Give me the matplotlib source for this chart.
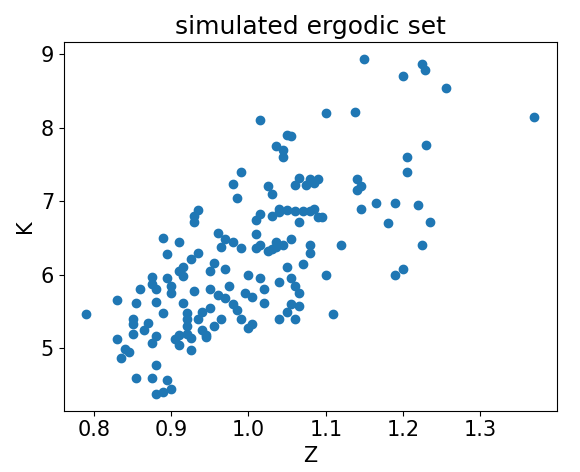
import matplotlib
matplotlib.use("Agg")
import matplotlib.pyplot as plt

Z = [0.79, 0.83, 0.83, 0.835, 0.84, 0.845, 0.85, 0.85, 0.85, 0.855, 0.855, 0.86, 0.865, 0.87,
     0.875, 0.875, 0.875, 0.88, 0.88, 0.88, 0.88, 0.875, 0.88, 0.89, 0.89, 0.89, 0.895, 0.895,
     0.895, 0.9, 0.9, 0.9, 0.905, 0.91, 0.91, 0.91, 0.91, 0.915, 0.915, 0.915, 0.92, 0.92, 0.92,
     0.92, 0.925, 0.925, 0.925, 0.93, 0.93, 0.935, 0.935, 0.93, 0.935, 0.94, 0.94, 0.945, 0.945,
     0.95, 0.95, 0.95, 0.955, 0.955, 0.96, 0.96, 0.965, 0.965, 0.97, 0.97, 0.97, 0.975, 0.98,
     0.98, 0.98, 0.985, 0.985, 0.99, 0.99, 0.99, 0.995, 1.0, 1.0, 1.005, 1.005, 1.01, 1.01, 1.01,
     1.015, 1.015, 1.015, 1.015, 1.02, 1.02, 1.025, 1.025, 1.03, 1.03, 1.03, 1.035, 1.035, 1.035,
     1.04, 1.04, 1.04, 1.04, 1.045, 1.045, 1.045, 1.05, 1.05, 1.05, 1.05, 1.055, 1.055, 1.055,
     1.055, 1.06, 1.06, 1.06, 1.06, 1.065, 1.065, 1.065, 1.065, 1.07, 1.07, 1.075, 1.08, 1.08,
     1.08, 1.08, 1.085, 1.085, 1.09, 1.09, 1.095, 1.1, 1.1, 1.11, 1.12, 1.138, 1.14, 1.14, 1.145,
     1.15, 1.145, 1.165, 1.18, 1.19, 1.19, 1.2, 1.2, 1.205, 1.205, 1.22, 1.225, 1.225, 1.228,
     1.23, 1.235, 1.255, 1.37]
K = [5.46, 5.13, 5.66, 4.87, 4.99, 4.95, 5.33, 5.40, 5.20, 5.62, 4.60, 5.80, 5.25, 5.35,
     5.97, 5.87, 5.07, 5.63, 5.80, 5.17, 4.77, 4.60, 4.38, 4.40, 5.48, 6.50, 6.28, 5.95,
     4.57, 4.45, 5.75, 5.85, 5.12, 5.18, 5.05, 6.05, 6.45, 5.62, 6.10, 5.98, 5.20, 5.30, 5.40,
     5.48, 4.98, 5.14, 6.22, 6.72, 6.80, 6.88, 6.29, 5.78, 5.40, 5.50, 5.25, 5.18, 5.15,
     5.55, 5.80, 6.05, 6.16, 5.30, 6.57, 5.72, 6.38, 5.40, 6.48, 6.08, 5.68, 5.85, 7.23,
     6.45, 5.60, 7.05, 5.52, 5.40, 6.37, 7.40, 5.75, 5.28, 6.00, 5.70, 5.33, 6.37, 6.75, 6.55,
     8.11, 6.82, 6.40, 5.95, 5.80, 5.62, 6.32, 7.20, 7.10, 6.80, 6.35, 6.45, 6.38, 7.75,
     6.90, 6.85, 5.40, 5.90, 7.60, 7.70, 6.40, 7.90, 6.88, 6.10, 5.50, 7.88, 6.48, 5.95,
     5.60, 7.22, 6.86, 5.85, 5.40, 7.32, 6.72, 5.58, 5.75, 6.87, 6.15, 7.22, 6.87, 7.30,
     6.40, 6.30, 7.25, 6.90, 7.30, 6.78, 6.78, 8.20, 6.00, 5.47, 6.40, 8.21, 7.30, 7.15, 7.20,
     8.93, 6.90, 6.97, 6.70, 6.98, 6.00, 8.70, 6.08, 7.40, 7.60, 6.95, 6.40, 8.87, 8.78,
     7.77, 6.72, 8.54, 8.14]

plt.rcParams.update({"font.size": 15})
fig, ax = plt.subplots(figsize=(5.8, 4.72), dpi=100)
ax.scatter(Z, K, color="#1f77b4")
ax.set_title("simulated ergodic set", fontsize=18)
ax.set_xlabel("Z")
ax.set_ylabel("K")
fig.subplots_adjust(left=0.11, right=0.96, top=0.91, bottom=0.13)
fig.savefig("out.png")
